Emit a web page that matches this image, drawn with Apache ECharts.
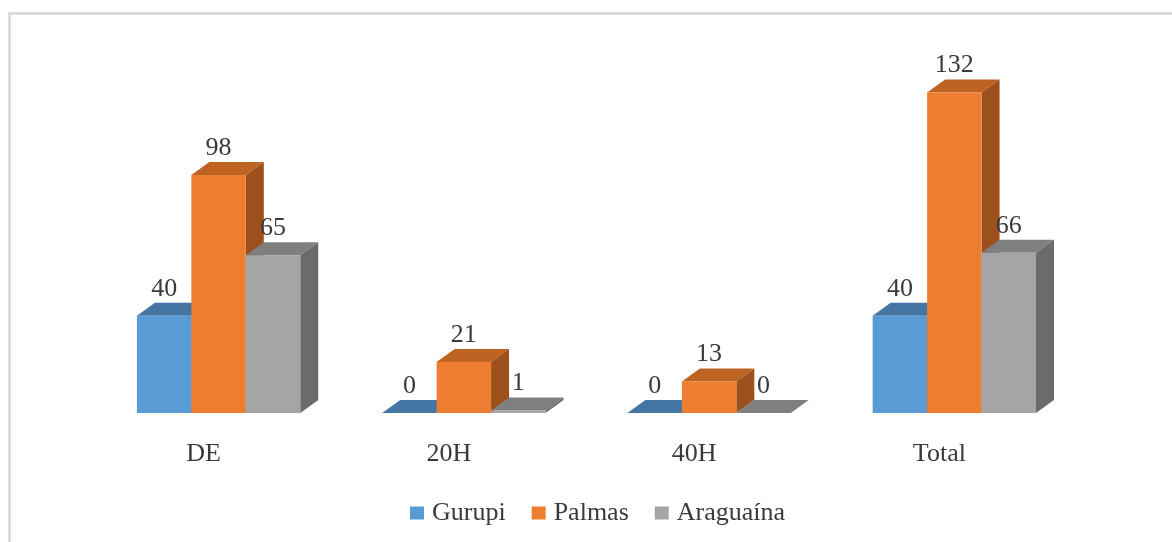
<!DOCTYPE html>
<html>
<head>
<meta charset="utf-8">
<script src="https://cdn.jsdelivr.net/npm/echarts@6/dist/echarts.min.js"></script>
<style>
html, body { margin: 0; padding: 0; background: #fff; }
#chart { width: 1172px; height: 542px; }
</style>
</head>
<body>
<div id="chart"></div>
<script>
var categories = ['DE', '20H', '40H', 'Total'];
var gurupi = [40, 0, 0, 40];
var palmas = [98, 21, 13, 132];
var araguaina = [65, 1, 0, 66];
var seriesNames = ['Gurupi', 'Palmas', 'Araguaína'];

// front / top / side shades for the fake 3d look
var shades = [
    ['#5B9BD5', '#4575A2', '#3F6B94'],
    ['#ED7D31', '#BE6322', '#9C511C'],
    ['#A5A5A5', '#7F7F7F', '#6B6B6B']
];
var FONT = 'Liberation Serif';
var TXT = '#3a3a3a';

function makeRender(k) {
    var c = shades[k];
    return function (params, api) {
        var cat = api.value(0), val = api.value(1);
        var p = api.coord([cat, val]);
        var b = api.coord([cat, 0]);
        var band = api.size([1, 0])[0];
        var w = band * 0.222;
        var x0 = p[0] - band * 0.272 + k * w;
        var x1 = x0 + w;
        var yT = p[1], yB = b[1];
        var dx = 18, dy = 13;
        return {
            type: 'group',
            children: [
                { type: 'polygon', shape: { points: [[x0, yT], [x1, yT], [x1 + dx, yT - dy], [x0 + dx, yT - dy]] }, style: { fill: c[1] } },
                { type: 'polygon', shape: { points: [[x1, yB], [x1, yT], [x1 + dx, yT - dy], [x1 + dx, yB - dy]] }, style: { fill: c[2] } },
                { type: 'rect', shape: { x: x0, y: yT, width: w, height: yB - yT }, style: { fill: c[0] } },
                { type: 'text', x: (x0 + x1) / 2, y: yT - dy - 1,
                  style: { text: String(val), align: 'center', verticalAlign: 'bottom',
                           font: '26px "Liberation Serif"', fill: TXT } }
            ]
        };
    };
}

var dataSets = [gurupi, palmas, araguaina];
var series = dataSets.map(function (arr, k) {
    return {
        name: seriesNames[k],
        type: 'custom',
        renderItem: makeRender(k),
        itemStyle: { color: shades[k][0] },
        encode: { x: 0, y: 1 },
        data: arr.map(function (v, i) { return [i, v]; })
    };
});

var chart = echarts.init(document.getElementById('chart'), null, { renderer: 'canvas' });
var option = {
    animation: false,
    backgroundColor: '#fff',
    textStyle: { fontFamily: FONT },
    graphic: [{
        type: 'rect',
        shape: { x: 9.5, y: 13.5, width: 1300, height: 700 },
        style: { fill: 'none', stroke: '#d6d6d6', lineWidth: 2.5 },
        silent: true
    }],
    grid: { left: 81, right: 110, top: 73, bottom: 129 },
    legend: {
        data: seriesNames,
        left: 405,
        top: 495,
        icon: 'rect',
        itemWidth: 14,
        itemHeight: 13,
        itemGap: 26,
        textStyle: { fontSize: 26, fontFamily: FONT, color: TXT, padding: [0, 0, 0, 3] }
    },
    xAxis: {
        type: 'category',
        data: categories,
        axisLine: { show: false },
        axisTick: { show: false },
        axisLabel: { fontSize: 26, fontFamily: FONT, color: TXT, margin: 28 }
    },
    yAxis: {
        type: 'value',
        min: 0,
        max: 140,
        show: false,
        splitLine: { show: false }
    },
    series: series
};
chart.setOption(option);
</script>
</body>
</html>
